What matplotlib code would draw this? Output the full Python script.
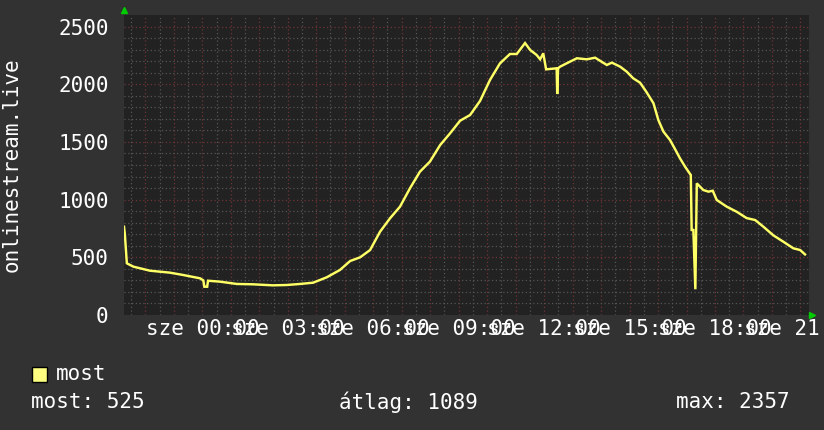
import matplotlib
matplotlib.use("Agg")
import matplotlib.pyplot as plt
from matplotlib.patches import Rectangle

# ---- data (hours relative to "sze 00:00", listener count) ----
hours = [-2.75, -2.72, -2.65, -2.42, -1.84, -1.14, -0.68, -0.08, 0.035, 0.07, 0.17, 0.20,
         0.62, 1.21, 1.78, 2.48, 2.96, 3.43, 3.89, 4.37, 4.83, 5.19, 5.54, 5.89,
         6.24, 6.59, 6.94, 7.29, 7.64, 7.99, 8.35, 8.70, 9.05, 9.40, 9.75, 10.10,
         10.45, 10.80, 11.04, 11.33, 11.51, 11.74, 11.86, 11.97, 12.07, 12.44, 12.46,
         12.49, 12.56, 12.79, 13.15, 13.50, 13.79, 14.20, 14.38, 14.67, 14.90, 15.13,
         15.37, 15.60, 15.84, 16.01, 16.19, 16.42, 16.60, 16.77, 16.95, 17.15, 17.18,
         17.24, 17.31, 17.36, 17.59, 17.77, 17.92, 18.06, 18.41, 18.76, 19.11, 19.41,
         19.70, 20.05, 20.40, 20.75, 20.99, 21.16]
values = [765, 700, 448, 419, 384, 367, 347, 318, 300, 245, 245, 297,
          289, 269, 266, 257, 260, 269, 280, 327, 390, 468, 500, 563,
          722, 838, 939, 1098, 1242, 1329, 1473, 1575, 1684, 1733, 1855, 2037,
          2181, 2262, 2262, 2357, 2297, 2253, 2216, 2268, 2129, 2138, 1915,
          2138, 2152, 2181, 2225, 2216, 2230, 2167, 2187, 2152, 2109, 2051,
          2013, 1930, 1835, 1690, 1589, 1517, 1436, 1358, 1285, 1213, 737,
          737, 223, 1141, 1083, 1069, 1077, 997, 939, 895, 840, 823,
          765, 690, 635, 578, 563, 525]

x_ticks = [0, 3, 6, 9, 12, 15, 18, 21]
x_labels = ["sze 00:00", "sze 03:00", "sze 06:00", "sze 09:00",
            "sze 12:00", "sze 15:00", "sze 18:00", "sze 21:00"]
y_ticks = [0, 500, 1000, 1500, 2000, 2500]
y_labels = ["0", "500", "1000", "1500", "2000", "2500"]

series_name = "most"
stat_labels = ["most: 525", "átlag: 1089", "max: 2357"]
y_title = "onlinestream.live"

# ---- styling ----
BACK = "#323232"
CANVAS = "#222222"
LINE = "#ffff66"
MINOR = "#555555"
MAJOR = "#703434"
FONT = ["DejaVu Sans Mono"]
FS = 15

plt.rcParams["font.family"] = FONT

W, H = 824, 430
fig = plt.figure(figsize=(W / 100, H / 100), dpi=100, facecolor=BACK)
L, R, T, B = 124, 809, 15, 315
ax = fig.add_axes([L / W, 1 - B / H, (R - L) / W, (B - T) / H])
ax.set_facecolor(CANVAS)

xmin, xmax = -2.75, 21.30
ax.set_xlim(xmin, xmax)
ax.set_ylim(0, 2600)

# grid lines
dot = (0, (1, 2))
h = -2.5
while h <= xmax:
    ax.axvline(h, color=MINOR, lw=0.9, ls=dot, zorder=1)
    h += 1.0
for hh in range(-2, 22):
    ax.axvline(hh, color=MAJOR, lw=0.9, ls=dot, zorder=1)
for v in range(100, 2600, 100):
    if v % 500:
        ax.axhline(v, color=MINOR, lw=0.9, ls=dot, zorder=1)
for v in range(500, 2600, 500):
    ax.axhline(v, color=MAJOR, lw=0.9, ls=dot, zorder=1)

ax.plot(hours, values, color=LINE, lw=1.75, zorder=3, solid_joinstyle="miter")

for s in ax.spines.values():
    s.set_visible(False)

ax.set_xticks(x_ticks)
ax.set_xticklabels(x_labels)
ax.set_yticks(y_ticks)
ax.set_yticklabels(y_labels)
ax.tick_params(axis="both", length=0, colors="white", labelsize=FS)
ax.tick_params(axis="x", pad=3)
ax.tick_params(axis="y", pad=11)
for lab in ax.get_xticklabels() + ax.get_yticklabels():
    lab.set_color("white")
    lab.set_family(FONT)

fig.text(12 / W, 1 - 165 / H, y_title, rotation=90, color="white", fontsize=FS,
         ha="center", va="center", family=FONT)

# arrows
ax.plot([0], [1 + 5 / 300], marker="^", color="#00cc00", ms=5, transform=ax.transAxes, clip_on=False)
ax.plot([1 + 3 / 685], [0], marker=">", color="#00cc00", ms=5, transform=ax.transAxes, clip_on=False)

# legend
fig.add_artist(Rectangle((32 / W, 1 - 382 / H), 15 / W, 15 / H, transform=fig.transFigure,
                         facecolor="#ffff80", edgecolor="black", lw=1))
fig.text(56 / W, 1 - 374 / H, series_name, color="white", fontsize=FS, ha="left", va="center", family=FONT)
for xpos, txt in zip([31, 339, 676], stat_labels):
    fig.text(xpos / W, 1 - 402 / H, txt, color="white", fontsize=FS, ha="left", va="center", family=FONT)

fig.savefig("out.png", dpi=100, facecolor=BACK)
